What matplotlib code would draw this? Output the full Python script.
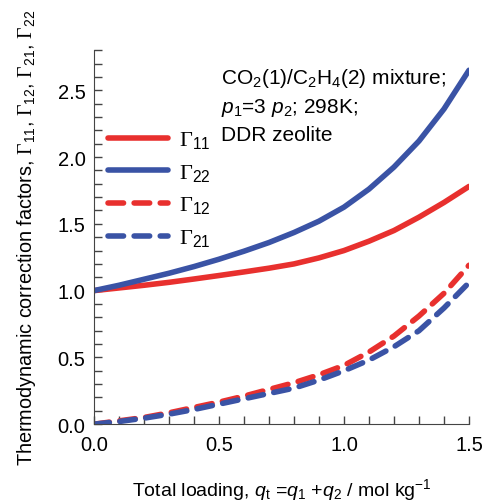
import matplotlib
matplotlib.use("Agg")
import matplotlib.pyplot as plt
from matplotlib.ticker import MultipleLocator

plt.rcParams['font.family'] = ['Liberation Sans', 'DejaVu Sans']
plt.rcParams['mathtext.fontset'] = 'custom'
plt.rcParams['mathtext.rm'] = 'Liberation Sans'
plt.rcParams['mathtext.it'] = 'Liberation Sans:italic'
plt.rcParams['mathtext.sf'] = 'Liberation Serif'   # used for the serif Gamma

# data
q_t = [0.0, 0.1, 0.2, 0.3, 0.4, 0.5, 0.6, 0.7, 0.8, 0.9, 1.0, 1.1, 1.2, 1.3, 1.4, 1.5]
gamma_11 = [1.0, 1.02, 1.04, 1.062, 1.087, 1.113, 1.14, 1.168, 1.20, 1.245, 1.30, 1.37, 1.45, 1.55, 1.66, 1.78]
gamma_22 = [1.0, 1.04, 1.085, 1.13, 1.18, 1.235, 1.295, 1.36, 1.435, 1.52, 1.625, 1.76, 1.925, 2.12, 2.36, 2.65]
gamma_12 = [0.0, 0.025, 0.05, 0.085, 0.125, 0.165, 0.21, 0.26, 0.31, 0.37, 0.44, 0.54, 0.66, 0.81, 0.98, 1.19]
gamma_21 = [0.0, 0.02, 0.045, 0.075, 0.11, 0.15, 0.19, 0.23, 0.27, 0.33, 0.40, 0.48, 0.58, 0.70, 0.87, 1.06]

red = "#e8302e"
blue = "#3a53a5"
G = r"\mathsf{\Gamma}"

fig = plt.figure(figsize=(4.84, 5.02), dpi=100)
ax = fig.add_axes([0.194, 0.153, 0.775, 0.745])

lw = 4.0
dash = (2.8, 1.9)
ax.plot(q_t, gamma_11, color=red, lw=lw, solid_capstyle="round", solid_joinstyle="round", label=rf"${G}_{{11}}$")
ax.plot(q_t, gamma_22, color=blue, lw=lw, solid_capstyle="round", solid_joinstyle="round", label=rf"${G}_{{22}}$")
ax.plot(q_t, gamma_12, color=red, lw=lw, dashes=dash, dash_capstyle="round", label=rf"${G}_{{12}}$")
ax.plot(q_t, gamma_21, color=blue, lw=lw, dashes=dash, dash_capstyle="round", label=rf"${G}_{{21}}$")

ax.set_xlim(0, 1.5)
ax.set_ylim(0, 2.8)
ax.xaxis.set_major_locator(MultipleLocator(0.5))
ax.xaxis.set_minor_locator(MultipleLocator(0.1))
ax.yaxis.set_major_locator(MultipleLocator(0.5))
ax.yaxis.set_minor_locator(MultipleLocator(0.1))
ax.xaxis.set_major_formatter(plt.FormatStrFormatter("%.1f"))
ax.yaxis.set_major_formatter(plt.FormatStrFormatter("%.1f"))
ax.tick_params(which="both", direction="in", length=6, width=1, labelsize=14.5, color="#444444")
ax.tick_params(axis="x", pad=8)
ax.tick_params(axis="y", pad=6)
ax.spines["top"].set_visible(False)
ax.spines["right"].set_visible(False)
for s in ["left", "bottom"]:
    ax.spines[s].set_color("#444444")

ax.set_xlabel(r"Total loading, $q_{\mathrm{t}}$ =$q_1$ +$q_2$ / mol kg$^{-1}$", fontsize=14, labelpad=16)
ax.set_ylabel(rf"Thermodynamic correction factors, ${G}_{{11}}$, ${G}_{{12}}$, ${G}_{{21}}$, ${G}_{{22}}$",
              fontsize=14.3, labelpad=14)

ax.text(0.34, 0.958, "CO$_2$(1)/C$_2$H$_4$(2) mixture;\n$p_1$=3 $p_2$; 298K;\nDDR zeolite",
        transform=ax.transAxes, fontsize=15, va="top", ha="left", linespacing=1.45)

ax.legend(loc="upper left", bbox_to_anchor=(-0.015, 0.842), frameon=False, fontsize=16,
          handlelength=2.7, handletextpad=0.5, labelspacing=0.5)

fig.savefig("out.png", dpi=100)
